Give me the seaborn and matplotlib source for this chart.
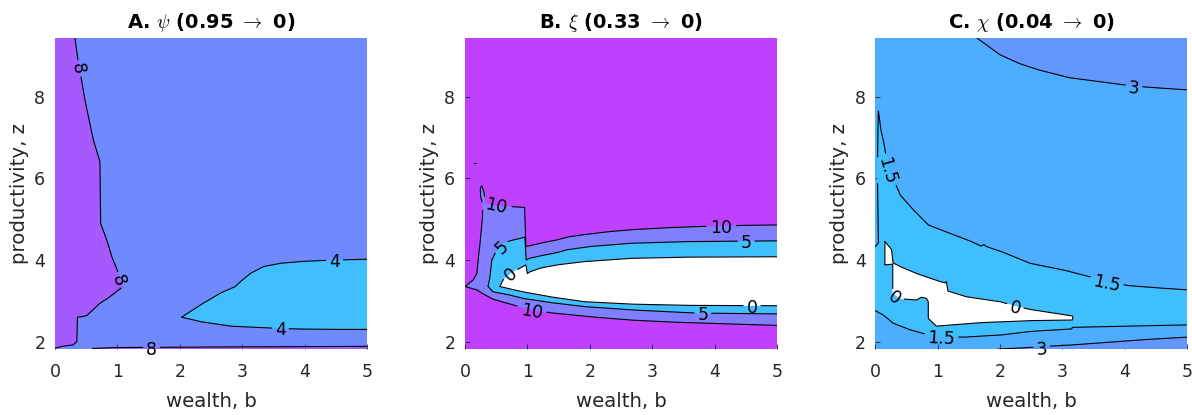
import numpy as np
import pandas as pd
import matplotlib
matplotlib.use("Agg")
import matplotlib.pyplot as plt
import seaborn as sns

sns.set_theme(style="white")
plt.rcParams["font.family"] = ["DejaVu Sans"]
plt.rcParams["mathtext.fontset"] = "cm"

# ---------------- shared axes ----------------
wealth_ticks = [0, 1, 2, 3, 4, 5]
productivity_ticks = [2, 4, 6, 8]
wealth_range = (0.0, 5.0)
productivity_range = (1.82, 9.44)

# ---------------- A. psi ----------------
psi_title = r"A. $\psi$ (0.95 $\rightarrow$ 0)"
psi_levels = [4, 8]
psi_colors = ["#40BEFF", "#6F8AFF", "#A45AFC"]  # below 4, 4-8, above 8

psi8_left_b = [0.32, 0.36, 0.42, 0.48, 0.55, 0.615, 0.72, 0.73, 0.78, 0.83, 0.91,
               1.02, 1.09, 0.88, 0.72, 0.51, 0.43, 0.36, 0.355, 0.35, 0.29, 0.13, 0.0]
psi8_left_z = [9.44, 8.99, 8.45, 7.92, 7.40, 6.94, 6.41, 4.90, 4.70, 4.49, 4.08,
               3.67, 3.35, 3.10, 2.94, 2.64, 2.61, 2.60, 2.30, 2.00, 1.92, 1.89, 1.84]
psi8_floor_b = [0.60, 1.00, 2.00, 3.00, 4.00, 5.00]
psi8_floor_z = [1.835, 1.855, 1.865, 1.872, 1.878, 1.885]
psi4_upper_b = [2.03, 2.33, 2.65, 2.89, 2.97, 3.13, 3.34, 3.61, 3.90, 4.15, 4.50, 5.00]
psi4_upper_z = [2.60, 2.90, 3.19, 3.35, 3.47, 3.67, 3.84, 3.92, 3.96, 3.98, 4.00, 4.02]
psi4_lower_b = [2.03, 2.33, 2.81, 3.34, 3.88, 4.40, 5.00]
psi4_lower_z = [2.60, 2.49, 2.38, 2.34, 2.31, 2.30, 2.30]
# contour labels: (b, z, rotation)
psi8_left_labels = [(0.39, 8.70, -80), (1.05, 3.52, -71)]
psi8_floor_labels = [(1.55, 1.85, 0)]
psi4_upper_labels = [(4.48, 4.00, 0)]
psi4_lower_labels = [(3.61, 2.32, -1)]

# ---------------- B. xi ----------------
xi_title = r"B. $\xi$ (0.33 $\rightarrow$ 0)"
xi_levels = [0, 5, 10]
xi_colors = ["#FFFFFF", "#40BFFF", "#7F7FFF", "#BF40FF"]  # below 0, 0-5, 5-10, above 10

xi10_upper_b = [0.0, 0.13, 0.19, 0.21, 0.23, 0.26, 0.28, 0.285, 0.25, 0.245, 0.27, 0.31,
                0.32, 0.45, 0.72, 0.955, 0.975, 1.20, 1.47, 1.63, 1.84, 2.27, 2.64, 3.20,
                3.93, 4.50, 5.00]
xi10_upper_z = [3.35, 3.51, 3.67, 4.00, 4.25, 4.70, 5.05, 5.35, 5.55, 5.76, 5.82, 5.62,
                5.38, 5.34, 5.31, 5.29, 4.33, 4.41, 4.49, 4.56, 4.61, 4.69, 4.74, 4.79,
                4.83, 4.85, 4.86]
xi10_lower_b = [0.0, 0.19, 0.29, 0.45, 0.77, 1.07, 1.36, 2.00, 2.64, 3.30, 4.09, 5.00]
xi10_lower_z = [3.35, 3.27, 3.17, 3.04, 2.90, 2.78, 2.71, 2.61, 2.53, 2.48, 2.44, 2.40]
xi5_upper_b = [0.37, 0.40, 0.43, 0.51, 0.61, 0.72, 0.96, 0.98, 1.03, 1.20, 1.47, 1.63,
               2.00, 2.64, 3.50, 5.00]
xi5_upper_z = [3.35, 3.59, 4.00, 4.25, 4.41, 4.47, 4.56, 4.00, 4.04, 4.10, 4.18, 4.25,
               4.33, 4.41, 4.45, 4.47]
xi5_lower_b = [0.37, 0.45, 0.67, 0.93, 1.36, 1.90, 2.64, 3.71, 5.00]
xi5_lower_z = [3.35, 3.22, 3.16, 3.06, 2.96, 2.86, 2.78, 2.70, 2.68]
xi0_upper_b = [0.56, 0.61, 0.77, 0.88, 0.975, 1.00, 1.04, 1.20, 1.47, 1.90, 2.64, 3.50, 5.00]
xi0_upper_z = [3.35, 3.51, 3.71, 3.80, 3.88, 3.67, 3.71, 3.80, 3.88, 3.96, 4.04, 4.07, 4.08]
xi0_lower_b = [0.56, 0.67, 0.93, 1.36, 1.90, 2.64, 3.50, 5.00]
xi0_lower_z = [3.35, 3.31, 3.22, 3.10, 2.98, 2.92, 2.89, 2.88]
xi10_speck_b = [0.15, 0.17]
xi10_speck_z = [6.38, 6.38]
xi10_upper_labels = [(0.51, 5.35, -12), (4.11, 4.83, 0)]
xi10_lower_labels = [(1.07, 2.78, -10)]
xi5_upper_labels = [(0.57, 4.34, 45), (4.51, 4.46, 0)]
xi5_lower_labels = [(3.81, 2.70, 0)]
xi0_upper_labels = [(0.72, 3.67, 40)]
xi0_lower_labels = [(4.60, 2.88, 0)]

# ---------------- C. chi ----------------
chi_title = r"C. $\chi$ (0.04 $\rightarrow$ 0)"
chi_levels = [0, 1.5, 3]
chi_colors = ["#FFFFFF", "#40BFFF", "#4DAEFF", "#6197FF"]  # below 0, 0-1.5, 1.5-3, above 3

chi3_top_b = [1.63, 1.80, 2.00, 2.30, 2.59, 3.10, 3.65, 4.15, 4.60, 5.00]
chi3_top_z = [9.44, 9.25, 9.03, 8.82, 8.67, 8.47, 8.36, 8.26, 8.21, 8.17]
chi3_bottom_b = [1.97, 2.40, 2.80, 3.07, 3.60, 4.20, 5.00]
chi3_bottom_z = [1.82, 1.85, 1.89, 1.91, 1.97, 2.04, 2.11]
chi15_upper_b = [0.0, 0.05, 0.045, 0.035, 0.04, 0.05, 0.09, 0.128, 0.18, 0.21, 0.34, 0.40,
                 0.61, 0.85, 1.20, 1.50, 1.70, 1.74, 1.78, 2.00, 2.48, 3.01, 3.44, 3.71,
                 4.08, 4.50, 5.00]
chi15_upper_z = [4.33, 4.42, 5.00, 6.00, 7.00, 7.65, 7.18, 6.94, 6.49, 6.20, 5.81, 5.59,
                 5.23, 4.86, 4.65, 4.48, 4.34, 4.38, 4.33, 4.22, 3.92, 3.76, 3.59, 3.46,
                 3.37, 3.32, 3.27]
chi15_lower_b = [0.0, 0.13, 0.29, 0.56, 0.77, 1.06, 1.41, 2.00, 2.48, 3.15, 3.16, 4.00, 5.00]
chi15_lower_z = [2.76, 2.65, 2.45, 2.29, 2.20, 2.13, 2.11, 2.16, 2.25, 2.31, 2.35, 2.38, 2.41]
chi0_loop_b = [0.154, 0.26, 0.285, 0.40, 0.66, 1.04, 1.12, 1.14, 1.165, 1.46, 2.00, 2.25,
               2.48, 3.16, 3.17, 3.16, 2.59, 1.73, 0.98, 0.85, 0.85, 0.82, 0.74, 0.66,
               0.40, 0.28, 0.28, 0.154]
chi0_loop_z = [4.45, 4.26, 3.93, 3.84, 3.67, 3.47, 3.44, 3.47, 3.24, 3.10, 2.98, 2.87,
               2.79, 2.63, 2.58, 2.53, 2.52, 2.47, 2.38, 2.57, 2.98, 3.06, 3.09, 3.02,
               3.05, 3.19, 3.90, 3.88]
chi3_top_labels = [(4.15, 8.26, -5)]
chi3_bottom_labels = [(2.67, 1.86, 4)]
chi15_upper_labels = [(0.21, 6.20, -74), (3.71, 3.46, -12)]
chi15_lower_labels = [(1.06, 2.12, -3)]
chi0_loop_labels = [(2.25, 2.87, -13), (0.33, 3.11, -35)]

INK = "#262626"
LABEL_SIZE = 12.5
GAP = {1: 8.5, 2: 15.0, 3: 17.0}


def level_text(level):
    return f"{level:g}"


def draw_level(ax, b, z, level, labels=()):
    """Draw one contour level as a black polyline, broken where its labels sit."""
    text = level_text(level)
    pts = ax.transData.transform(np.column_stack([b, z]))
    seg = np.hypot(*np.diff(pts, axis=0).T)
    s = np.concatenate([[0.0], np.cumsum(seg)])
    ss = np.union1d(np.linspace(0.0, s[-1], int(s[-1] * 2) + 2), s)
    x = np.interp(ss, s, pts[:, 0])
    y = np.interp(ss, s, pts[:, 1])
    keep = np.ones(x.size, bool)
    for lb, lz, rot in labels:
        cx, cy = ax.transData.transform((lb, lz))
        keep &= np.hypot(x - cx, y - cy) > GAP[len(text)]
        ax.text(lb, lz, text, rotation=rot, rotation_mode="anchor", ha="center",
                va="center_baseline", fontsize=LABEL_SIZE, color="black",
                clip_on=False, zorder=6)
    idx = np.flatnonzero(keep)
    runs = np.split(idx, np.flatnonzero(np.diff(idx) > 1) + 1)
    frames = []
    for k, r in enumerate(runs):
        if r.size < 2:
            continue
        d = ax.transData.inverted().transform(np.column_stack([x[r], y[r]]))
        frames.append(pd.DataFrame({"b": d[:, 0], "z": d[:, 1], "piece": k}))
    if frames:
        sns.lineplot(data=pd.concat(frames, ignore_index=True), x="b", y="z",
                     units="piece", estimator=None, sort=False, color="black",
                     linewidth=0.8, ax=ax, legend=False, zorder=4)


def fill(ax, b, z, color, order):
    ax.fill(b, z, facecolor=color, edgecolor=color, linewidth=0.3, zorder=order)


def style_axes(ax, title):
    ax.set_xlim(*wealth_range)
    ax.set_ylim(*productivity_range)
    ax.set_xticks(wealth_ticks)
    ax.set_yticks(productivity_ticks)
    for sp in ax.spines.values():
        sp.set_visible(False)
    ax.tick_params(direction="in", length=3.5, width=0.6, color=INK,
                   labelsize=12.5, labelcolor=INK, bottom=True, left=True)
    ax.tick_params(axis="x", pad=10)
    ax.tick_params(axis="y", pad=7)
    ax.set_xlabel("wealth, b", fontsize=14.2, color=INK)
    ax.set_ylabel("productivity, z", fontsize=14.2, color=INK)
    ax.xaxis.set_label_coords(0.5, -0.137)
    ax.yaxis.set_label_coords(-0.115, 0.5)
    ax.yaxis.label.set_va("center")
    ax.set_title(title, fontsize=14, fontweight="bold", pad=7.5, color="black")
    ax.grid(False)


fig = plt.figure(figsize=(11.92, 4.15), dpi=100)
W, H = 1192.0, 415.0
rect_bottom, rect_h = (H - 349) / H, 311 / H
axA = fig.add_axes([55 / W, rect_bottom, 312 / W, rect_h])
axB = fig.add_axes([465 / W, rect_bottom, 312 / W, rect_h])
axC = fig.add_axes([875.3 / W, rect_bottom, 311.7 / W, rect_h])
for ax in (axA, axB, axC):
    ax.set_xlim(*wealth_range)
    ax.set_ylim(*productivity_range)

lo, hi = productivity_range[0] - 0.2, productivity_range[1] + 0.2
left, right = wealth_range[0] - 0.2, wealth_range[1] + 0.2

# ---- A ----
axA.set_facecolor(psi_colors[1])
fill(axA, [psi8_left_b[0]] + psi8_left_b + [left, left],
     [hi] + psi8_left_z + [psi8_left_z[-1], hi], psi_colors[2], 1)
fill(axA, psi8_floor_b + [right, right, psi8_floor_b[0]],
     psi8_floor_z + [psi8_floor_z[-1], lo, lo], psi_colors[2], 1)
fill(axA, psi4_upper_b + [right, right] + psi4_lower_b[::-1],
     psi4_upper_z + [psi4_upper_z[-1], psi4_lower_z[-1]] + psi4_lower_z[::-1],
     psi_colors[0], 2)
draw_level(axA, psi8_left_b, psi8_left_z, psi_levels[1], psi8_left_labels)
draw_level(axA, psi8_floor_b, psi8_floor_z, psi_levels[1], psi8_floor_labels)
draw_level(axA, psi4_upper_b, psi4_upper_z, psi_levels[0], psi4_upper_labels)
draw_level(axA, psi4_lower_b, psi4_lower_z, psi_levels[0], psi4_lower_labels)
style_axes(axA, psi_title)

# ---- B ----
axB.set_facecolor(xi_colors[3])
fill(axB, [left] + xi10_upper_b + [right, right] + xi10_lower_b[::-1],
     [xi10_upper_z[0]] + xi10_upper_z + [xi10_upper_z[-1], xi10_lower_z[-1]]
     + xi10_lower_z[::-1], xi_colors[2], 1)
fill(axB, xi5_upper_b + [right, right] + xi5_lower_b[::-1],
     xi5_upper_z + [xi5_upper_z[-1], xi5_lower_z[-1]] + xi5_lower_z[::-1],
     xi_colors[1], 2)
fill(axB, xi0_upper_b + [right, right] + xi0_lower_b[::-1],
     xi0_upper_z + [xi0_upper_z[-1], xi0_lower_z[-1]] + xi0_lower_z[::-1],
     xi_colors[0], 3)
draw_level(axB, xi10_upper_b, xi10_upper_z, xi_levels[2], xi10_upper_labels)
draw_level(axB, xi10_lower_b, xi10_lower_z, xi_levels[2], xi10_lower_labels)
draw_level(axB, xi5_upper_b, xi5_upper_z, xi_levels[1], xi5_upper_labels)
draw_level(axB, xi5_lower_b, xi5_lower_z, xi_levels[1], xi5_lower_labels)
draw_level(axB, xi0_upper_b, xi0_upper_z, xi_levels[0], xi0_upper_labels)
draw_level(axB, xi0_lower_b, xi0_lower_z, xi_levels[0], xi0_lower_labels)
draw_level(axB, xi10_speck_b, xi10_speck_z, xi_levels[2])
style_axes(axB, xi_title)

# ---- C ----
axC.set_facecolor(chi_colors[2])
fill(axC, chi3_top_b + [right, right, chi3_top_b[0]],
     chi3_top_z + [chi3_top_z[-1], hi, hi], chi_colors[3], 1)
fill(axC, [chi3_bottom_b[0]] + chi3_bottom_b + [right, right],
     [lo] + chi3_bottom_z + [chi3_bottom_z[-1], lo], chi_colors[3], 1)
fill(axC, [left] + chi15_upper_b + [right, right] + chi15_lower_b[::-1] + [left],
     [chi15_upper_z[0]] + chi15_upper_z + [chi15_upper_z[-1], chi15_lower_z[-1]]
     + chi15_lower_z[::-1] + [chi15_lower_z[0]], chi_colors[1], 2)
fill(axC, chi0_loop_b, chi0_loop_z, chi_colors[0], 3)
draw_level(axC, chi3_top_b, chi3_top_z, chi_levels[2], chi3_top_labels)
draw_level(axC, chi3_bottom_b, chi3_bottom_z, chi_levels[2], chi3_bottom_labels)
draw_level(axC, chi15_upper_b, chi15_upper_z, chi_levels[1], chi15_upper_labels)
draw_level(axC, chi15_lower_b, chi15_lower_z, chi_levels[1], chi15_lower_labels)
draw_level(axC, chi0_loop_b + chi0_loop_b[:1], chi0_loop_z + chi0_loop_z[:1],
           chi_levels[0], chi0_loop_labels)
style_axes(axC, chi_title)

fig.savefig("out.png", dpi=100)
